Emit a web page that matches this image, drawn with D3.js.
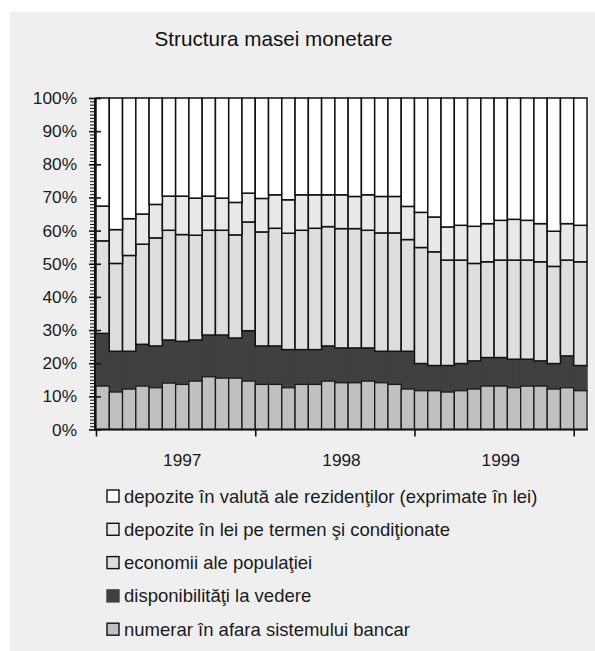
<!DOCTYPE html>
<html>
<head>
<meta charset="utf-8">
<script src="https://cdn.jsdelivr.net/npm/d3@7"></script>
<style>
  html, body { margin: 0; padding: 0; background: #ffffff; }
  svg { display: block; font-family: "Liberation Sans", Arial, Helvetica, sans-serif; }
</style>
</head>
<body>
<svg id="chart" width="595" height="651"></svg>
<script>
// ---------- data ----------
const title = "Structura masei monetare";
const categories = [
  "Dec 1996",
  "Ian 1997","Feb 1997","Mar 1997","Apr 1997","Mai 1997","Iun 1997","Iul 1997","Aug 1997","Sep 1997","Oct 1997","Noi 1997","Dec 1997",
  "Ian 1998","Feb 1998","Mar 1998","Apr 1998","Mai 1998","Iun 1998","Iul 1998","Aug 1998","Sep 1998","Oct 1998","Noi 1998","Dec 1998",
  "Ian 1999","Feb 1999","Mar 1999","Apr 1999","Mai 1999","Iun 1999","Iul 1999","Aug 1999","Sep 1999","Oct 1999","Noi 1999","Dec 1999"
];
// share of M2, percent
const numerar = [13.1,11.3,12.2,13.1,12.6,14.0,13.6,14.6,15.9,15.5,15.5,14.6,13.6,13.6,12.6,13.6,13.6,14.6,14.1,14.1,14.6,14.1,13.6,12.2,11.7,11.7,11.3,11.7,12.2,13.1,13.1,12.6,13.1,13.1,12.2,12.6,11.7];
const disponibilitati = [15.9,12.3,11.4,12.6,12.6,13.0,13.0,12.4,12.6,13.0,12.1,15.2,11.6,11.6,11.5,10.5,10.5,10.6,10.5,10.5,10.0,9.5,10.0,11.4,8.2,7.6,8.0,8.2,8.5,8.6,8.6,8.6,8.1,7.6,7.7,9.6,7.6];
const economii = [27.9,26.5,28.9,30.2,32.6,33.1,32.2,31.6,31.6,31.6,31.1,32.8,34.4,35.5,35.1,36.0,36.6,36.0,36.0,36.0,35.5,35.7,35.7,33.7,35.0,34.3,31.8,31.2,29.4,28.9,29.4,29.9,29.9,29.9,29.3,28.9,31.3];
const depoziteLei = [10.5,10.2,11.1,9.1,10.1,10.3,11.6,11.2,10.3,9.7,9.8,8.7,10.1,10.1,10.1,10.7,10.1,9.6,10.2,9.7,10.7,11.0,11.0,10.0,10.6,10.5,10.0,10.5,11.2,11.5,12.0,12.3,12.0,11.5,10.6,11.0,11.0];
const depoziteValuta = [32.6,39.7,36.4,35.0,32.1,29.6,29.6,30.2,29.6,30.2,31.5,28.7,30.3,29.2,30.7,29.2,29.2,29.2,29.2,29.7,29.2,29.7,29.7,32.7,34.5,35.9,38.9,38.4,38.7,37.9,36.9,36.6,36.9,37.9,40.2,37.9,38.4];

const seriesKeys = ["numerar","disponibilitati","economii","depoziteLei","depoziteValuta"];
const seriesNames = {
  depoziteValuta: "depozite în valută ale rezidenţilor (exprimate în lei)",
  depoziteLei: "depozite în lei pe termen şi condiţionate",
  economii: "economii ale populaţiei",
  disponibilitati: "disponibilităţi la vedere",
  numerar: "numerar în afara sistemului bancar"
};
const legendOrder = ["depoziteValuta","depoziteLei","economii","disponibilitati","numerar"];
const yTicks = [0,10,20,30,40,50,60,70,80,90,100];
const yearLabels = ["1997","1998","1999"];
const yearLabelCats = ["Iun 1997","Iun 1998","Iun 1999"];
const yearTickCats = ["Dec 1996","Dec 1997","Dec 1998","Dec 1999"];

// ---------- styles ----------
const fills = {
  numerar: "#c0c0c0",
  disponibilitati: "#404040",
  economii: "#dedede",
  depoziteLei: "#e9e9e9",
  depoziteValuta: "#ffffff"
};
const strokes = {
  numerar: "#1a1a1a",
  disponibilitati: "#404040",
  economii: "#111111",
  depoziteLei: "#111111",
  depoziteValuta: "#111111"
};

// ---------- build ----------
const svg = d3.select("#chart");
svg.append("rect").attr("x", 0).attr("y", 0).attr("width", 595).attr("height", 651).attr("fill", "#ffffff");
svg.append("rect").attr("x", 10).attr("y", 12).attr("width", 585).attr("height", 639).attr("fill", "#efefef");

const plot = { left: 96, right: 587, top: 98, bottom: 429.5 };

const x = d3.scaleBand().domain(categories).range([plot.left, plot.right]).paddingInner(0).paddingOuter(0);
const y = d3.scaleLinear().domain([0, 100]).range([plot.bottom, plot.top]);

const table = categories.map((c, i) => ({
  cat: c,
  numerar: numerar[i],
  disponibilitati: disponibilitati[i],
  economii: economii[i],
  depoziteLei: depoziteLei[i],
  depoziteValuta: depoziteValuta[i]
}));
const stacked = d3.stack().keys(seriesKeys).offset(d3.stackOffsetExpand)(table);

// draw dark series first so black outlines of neighbours lie above it
const drawOrder = ["disponibilitati","numerar","economii","depoziteLei","depoziteValuta"];
drawOrder.forEach(k => {
  const s = stacked.find(t => t.key === k);
  svg.append("g")
    .selectAll("rect")
    .data(s)
    .join("rect")
    .attr("x", d => x(d.data.cat))
    .attr("width", x.bandwidth())
    .attr("y", d => y(d[1] * 100))
    .attr("height", d => y(d[0] * 100) - y(d[1] * 100))
    .attr("fill", fills[k])
    .attr("stroke", strokes[k])
    .attr("stroke-width", k === "numerar" ? 1.3 : 1.5);
});

// ---------- axes ----------
const fontColor = "#1a1a1a";

// minor y ticks (every 1%)
const minorVals = d3.range(0, 101, 1).filter(v => v % 10 !== 0);
const yMinor = svg.append("g")
  .attr("transform", `translate(${plot.left - 1},0)`)
  .call(d3.axisLeft(y).tickValues(minorVals).tickSize(5).tickFormat(""));
yMinor.select(".domain").remove();
yMinor.selectAll("line").attr("stroke", "#111").attr("stroke-width", 1);

// major y ticks (crossing axis) + labels
const yMajor = svg.append("g")
  .attr("transform", `translate(${plot.left - 1},0)`)
  .call(d3.axisLeft(y).tickValues(yTicks).tickSize(6).tickPadding(12).tickFormat(d => d + "%"));
yMajor.select(".domain").remove();
yMajor.selectAll(".tick line").attr("x1", 6).attr("x2", -6).attr("stroke", "#111").attr("stroke-width", 1.6);
yMajor.selectAll(".tick text")
  .attr("font-size", 17.3).attr("fill", fontColor)
  .attr("font-family", "'Liberation Sans', Arial, sans-serif");

svg.append("line")
  .attr("x1", plot.left - 1).attr("x2", plot.left - 1)
  .attr("y1", y(100)).attr("y2", y(0) + 1)
  .attr("stroke", "#111").attr("stroke-width", 2);

// x axis: tick marks at year boundaries
const xEdge = d3.scaleLinear().domain([0, categories.length]).range([plot.left, plot.right]);
const xTicks = svg.append("g")
  .attr("transform", `translate(0,${plot.bottom})`)
  .call(d3.axisBottom(xEdge).tickValues(yearTickCats.map(c => categories.indexOf(c))).tickSize(7).tickFormat(""));
xTicks.select(".domain").remove();
xTicks.selectAll("line").attr("stroke", "#111").attr("stroke-width", 1.6);

svg.append("line")
  .attr("x1", plot.left - 2).attr("x2", plot.right + 1)
  .attr("y1", plot.bottom).attr("y2", plot.bottom)
  .attr("stroke", "#111").attr("stroke-width", 2);

// x labels (years)
const xLab = svg.append("g")
  .attr("transform", `translate(0,${plot.bottom})`)
  .call(d3.axisBottom(x).tickValues(yearLabelCats).tickSize(0).tickPadding(24)
    .tickFormat(d => yearLabels[yearLabelCats.indexOf(d)]));
xLab.select(".domain").remove();
xLab.selectAll("text").attr("font-size", 17.3).attr("fill", fontColor)
  .attr("font-family", "'Liberation Sans', Arial, sans-serif");

// ---------- title ----------
svg.append("text")
  .attr("x", 273.5).attr("y", 46)
  .attr("text-anchor", "middle")
  .attr("font-size", 20.7)
  .attr("fill", "#111")
  .text(title);

// ---------- legend ----------
const lg = svg.append("g");
legendOrder.forEach((k, i) => {
  const cy = 496 + i * 33.3;
  lg.append("rect")
    .attr("x", 107).attr("y", cy - 6).attr("width", 12).attr("height", 12)
    .attr("fill", fills[k])
    .attr("stroke", k === "disponibilitati" ? fills[k] : "#111")
    .attr("stroke-width", 1.4);
  lg.append("text")
    .attr("x", 124).attr("y", cy + 6.5)
    .attr("font-size", 18.5)
    .attr("fill", fontColor)
    .text(seriesNames[k]);
});
</script>
</body>
</html>
